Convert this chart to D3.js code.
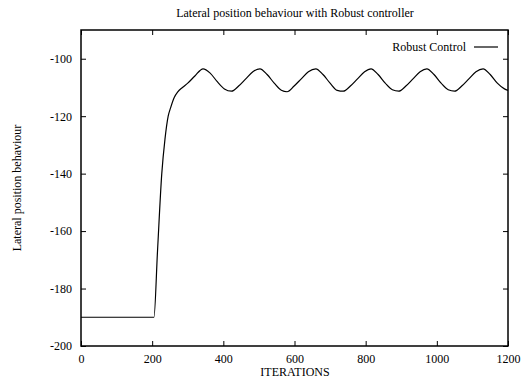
<!DOCTYPE html>
<html><head><meta charset="utf-8">
<script src="https://cdn.jsdelivr.net/npm/d3@7"></script>
<style>body{margin:0;background:#fff}svg{display:block}text{font-family:"Liberation Serif","Times New Roman",serif;fill:#000}</style>
</head><body><svg id="c" width="526" height="378"></svg>
<script>
const title = "Lateral position behaviour with Robust controller";
const xLabel = "ITERATIONS";
const yLabel = "Lateral position behaviour";
const seriesName = "Robust Control";
const xTicks = [0, 200, 400, 600, 800, 1000, 1200];
const yTicks = [-200, -180, -160, -140, -120, -100];
const iterations = [0,205,215,227,236,245,252,262,272,285,300,320,343,363,383,403,423,443,463,483,503,523,543,563,579,599,619,639,660,680,700,720,737,757,777,797,815,835,855,875,893,913,933,953,972,992,1012,1032,1050,1070,1090,1110,1130,1150,1170,1190,1200];
const position = [-190,-190,-167,-140,-128,-120,-117,-113.5,-111.5,-110,-108.5,-106,-103.5,-105,-108,-110.5,-111.3,-109.5,-107,-104.5,-103.5,-105.5,-108.5,-111,-111.5,-109.5,-107,-104.5,-103.5,-105.5,-108.5,-111,-111.3,-109.5,-107,-104.5,-103.5,-105.5,-108.5,-110.8,-111.3,-109.5,-107,-104.5,-103.5,-105.5,-108.5,-110.8,-111.3,-109.5,-107,-104.5,-103.5,-105.5,-108.5,-110.5,-111];

const svg = d3.select("#c");
const L = 81, R = 508, T = 30, B = 346;
const x = d3.scaleLinear().domain([0, 1200]).range([L, R]);
const y = d3.scaleLinear().domain([-200, -90]).range([B, T]);
const fmt = d => String(d).replace("\u2212", "-");

const ax = d3.axisBottom(x).tickValues(xTicks).tickSize(-5).tickPadding(8).tickFormat(fmt);
const gx = svg.append("g").attr("transform", `translate(0,${B})`).call(ax);
const axT = d3.axisTop(x).tickValues(xTicks).tickSize(-5).tickFormat("");
const gxt = svg.append("g").attr("transform", `translate(0,${T})`).call(axT);
const ay = d3.axisLeft(y).tickValues(yTicks).tickSize(-5).tickPadding(9).tickFormat(fmt);
const gy = svg.append("g").attr("transform", `translate(${L},0)`).call(ay);
const ayR = d3.axisRight(y).tickValues(yTicks).tickSize(-5).tickFormat("");
const gyr = svg.append("g").attr("transform", `translate(${R},0)`).call(ayR);
[gx, gxt, gy, gyr].forEach(g => {
  g.select(".domain").remove();
  g.selectAll(".tick line").attr("stroke", "#000").attr("stroke-width", 1);
  g.selectAll("text").style("font-size", "12px").attr("font-family", "Liberation Serif");
});

svg.append("rect").attr("x", L).attr("y", T).attr("width", R - L).attr("height", B - T)
  .attr("fill", "none").attr("stroke", "#000").attr("stroke-width", 1.5);

const data = iterations.map((d, i) => [d, position[i]]);
svg.append("path").datum(data)
  .attr("fill", "none").attr("stroke", "#000").attr("stroke-width", 1.2)
  .attr("d", d3.line().x(d => x(d[0])).y(d => y(d[1])).curve(d3.curveMonotoneX));

svg.append("text").attr("x", 295).attr("y", 17).attr("text-anchor", "middle").style("font-size", "12px").text(title);
svg.append("text").attr("x", 295).attr("y", 376).attr("text-anchor", "middle").style("font-size", "12px").text(xLabel);
svg.append("text").attr("transform", "translate(21,188) rotate(-90)").attr("text-anchor", "middle").style("font-size", "12px").text(yLabel);

svg.append("text").attr("x", 466).attr("y", 51).attr("text-anchor", "end").style("font-size", "12px").text(seriesName);
svg.append("line").attr("x1", 474).attr("x2", 498).attr("y1", 47).attr("y2", 47).attr("stroke", "#000").attr("stroke-width", 1.2);
</script></body></html>
